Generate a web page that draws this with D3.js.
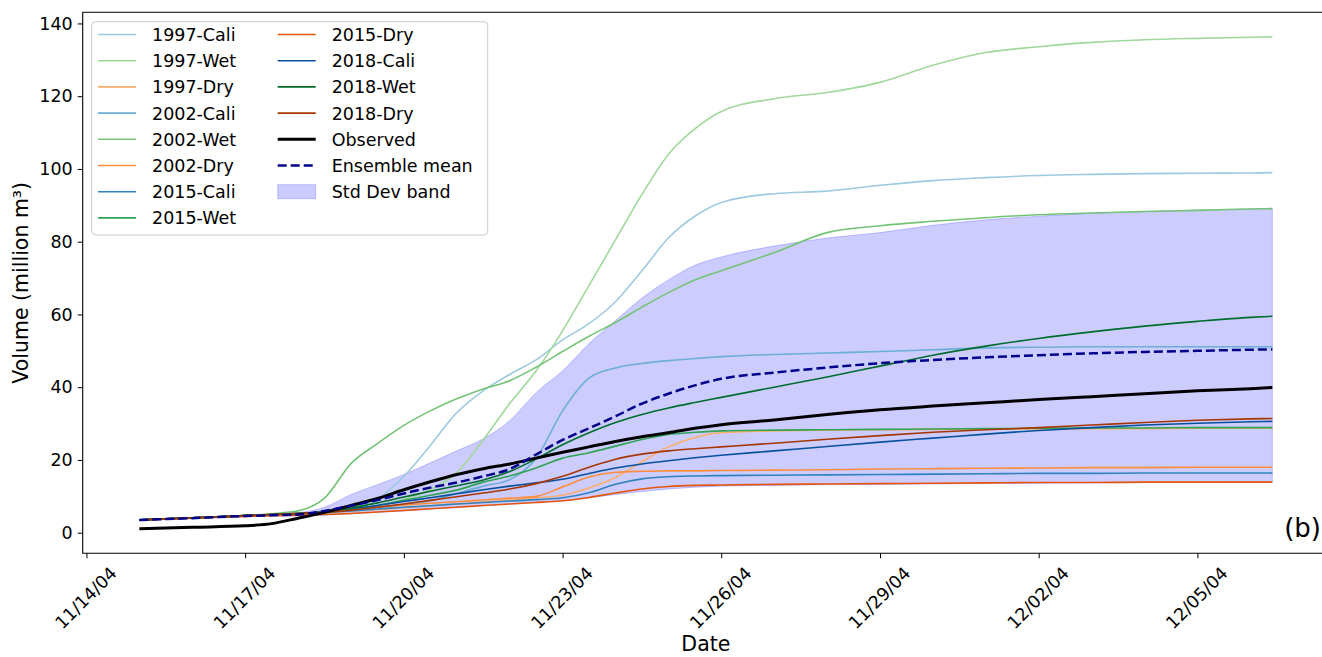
<!DOCTYPE html>
<html>
<head>
<meta charset="utf-8">
<script src="https://cdn.jsdelivr.net/npm/d3@7"></script>
<style>
  body { margin: 0; background: #fff; }
  svg { display: block; font-family: "DejaVu Sans", sans-serif; }
</style>
</head>
<body>
<svg id="chart" width="1322" height="657"></svg>
<script>
// sample times (shared by every series)
const dates = [
    "2004-11-15 00:00", "2004-11-16 00:00", "2004-11-17 00:00", "2004-11-17 12:00",
    "2004-11-18 00:00", "2004-11-18 12:00", "2004-11-19 00:00", "2004-11-19 12:00",
    "2004-11-20 00:00", "2004-11-20 12:00", "2004-11-21 00:00", "2004-11-21 12:00",
    "2004-11-22 00:00", "2004-11-22 12:00", "2004-11-23 00:00", "2004-11-23 12:00",
    "2004-11-24 00:00", "2004-11-24 12:00", "2004-11-25 00:00", "2004-11-25 12:00",
    "2004-11-26 00:00", "2004-11-27 00:00", "2004-11-28 00:00", "2004-11-29 00:00",
    "2004-11-30 00:00", "2004-12-01 00:00", "2004-12-02 00:00", "2004-12-03 00:00",
    "2004-12-04 00:00", "2004-12-05 00:00", "2004-12-06 00:00", "2004-12-06 10:00"
];

// ensemble members (million m3)
const cali1997 = [3.5, 4.1, 4.7, 5.0, 5.3, 5.7, 7.0, 9.3, 15.5, 24, 33, 39, 43.5, 47.5, 53, 57.5, 63.5, 72, 81, 87, 90.8, 93.2, 93.9, 95.5, 96.8, 97.6, 98.2, 98.5, 98.7, 98.8, 98.9, 99.0];
const wet1997 = [3.5, 4.1, 4.7, 5.0, 5.3, 5.6, 6.2, 7.4, 9.2, 11.8, 16.5, 25.5, 35.5, 44.5, 55.5, 68, 80.5, 93, 104, 111, 115.8, 119.3, 121, 123.8, 128.5, 132, 133.6, 134.8, 135.5, 135.9, 136.2, 136.3];
const dry1997 = [3.5, 4.1, 4.7, 5.0, 5.3, 5.5, 5.9, 6.4, 6.9, 7.4, 7.9, 8.4, 9.0, 9.6, 10.3, 12.3, 15.2, 19.5, 23.6, 26.2, 27.5, 28.0, 28.2, 28.3, 28.4, 28.5, 28.5, 28.6, 28.6, 28.7, 28.7, 28.7];
const cali2002 = [3.5, 4.1, 4.7, 5.0, 5.3, 5.7, 6.3, 7.0, 7.8, 8.8, 10.8, 12.8, 14.6, 20.5, 33.5, 42.5, 45.3, 46.5, 47.3, 47.9, 48.4, 49.0, 49.4, 49.8, 50.3, 50.8, 51.0, 51.1, 51.1, 51.1, 51.1, 51.1];
const wet2002 = [3.5, 4.1, 4.7, 5.2, 6.0, 9.5, 19.0, 24.5, 29.5, 33.5, 36.8, 39.5, 41.8, 45.5, 49.8, 54, 57.8, 62, 66, 69.5, 72, 77, 82.5, 84.4, 85.6, 86.6, 87.4, 87.9, 88.3, 88.6, 89.0, 89.1];
const dry2002 = [3.5, 4.1, 4.7, 5.0, 5.3, 5.7, 6.3, 7.0, 7.6, 8.1, 8.5, 9.0, 9.5, 10.0, 12.6, 15.3, 16.6, 16.9, 17.0, 17.0, 17.1, 17.2, 17.3, 17.5, 17.6, 17.7, 17.8, 17.9, 17.9, 18.0, 18.0, 18.0];
const cali2015 = [3.5, 4.1, 4.7, 5.0, 5.3, 5.6, 6.0, 6.5, 7.0, 7.4, 7.9, 8.3, 8.7, 9.1, 9.6, 11.0, 13.3, 14.8, 15.4, 15.6, 15.7, 15.8, 15.9, 16.0, 16.1, 16.2, 16.3, 16.3, 16.4, 16.4, 16.4, 16.4];
const wet2015 = [3.5, 4.1, 4.7, 5.0, 5.3, 5.6, 6.3, 7.5, 8.9, 10.3, 11.7, 13.9, 15.6, 17.8, 20.5, 22.0, 23.8, 25.6, 27.0, 27.6, 28.0, 28.2, 28.3, 28.4, 28.5, 28.6, 28.7, 28.8, 28.8, 28.9, 28.9, 28.9];
const dry2015 = [3.5, 4.0, 4.5, 4.7, 4.8, 5.0, 5.3, 5.7, 6.1, 6.6, 7.0, 7.5, 7.9, 8.3, 8.8, 9.7, 10.9, 12.0, 12.7, 13.0, 13.1, 13.3, 13.4, 13.5, 13.6, 13.7, 13.8, 13.8, 13.9, 13.9, 13.9, 13.9];
const cali2018 = [3.5, 4.1, 4.7, 5.0, 5.3, 5.8, 6.6, 7.5, 8.6, 9.6, 10.7, 11.8, 12.8, 13.7, 14.7, 16.3, 17.8, 18.9, 19.8, 20.6, 21.3, 22.5, 23.7, 24.9, 26.0, 27.1, 28.1, 28.9, 29.6, 30.1, 30.5, 30.6];
const wet2018 = [3.5, 4.1, 4.7, 5.0, 5.3, 5.7, 6.8, 8.2, 9.8, 11.4, 12.9, 14.5, 16.8, 20.3, 24.2, 27.5, 30.3, 32.5, 34.3, 35.8, 37.2, 40.0, 42.8, 45.8, 48.8, 51.3, 53.4, 55.2, 56.8, 58.1, 59.2, 59.5];
const dry2018 = [3.5, 4.1, 4.7, 5.0, 5.3, 5.6, 6.2, 7.0, 7.9, 8.9, 9.9, 10.9, 12.0, 13.5, 15.5, 18.0, 20.2, 21.6, 22.5, 23.1, 23.6, 24.6, 25.7, 26.7, 27.6, 28.3, 28.9, 29.6, 30.3, 30.9, 31.3, 31.4];

const observed = [1.1, 1.5, 1.9, 2.5, 4.0, 5.6, 7.5, 9.4, 11.8, 14.0, 16.0, 17.6, 18.9, 20.5, 22.1, 23.6, 25.1, 26.4, 27.5, 28.7, 29.7, 31.0, 32.5, 33.8, 34.8, 35.7, 36.6, 37.4, 38.2, 39.0, 39.6, 39.9];
const ensembleMean = [3.5, 4.0, 4.6, 4.8, 5.0, 6.0, 7.4, 9.0, 10.8, 12.4, 13.8, 15.5, 17.5, 21.5, 25.5, 28.7, 32.0, 35.5, 38.2, 40.5, 42.3, 44.0, 45.4, 46.6, 47.5, 48.2, 48.8, 49.3, 49.7, 50.0, 50.3, 50.4];
const bandUpper = [3.6, 4.2, 4.8, 5.1, 5.5, 7.0, 10.5, 13.2, 16.0, 19.2, 22.5, 25.8, 30.8, 38.5, 44.5, 52, 58.3, 64.5, 69.5, 73.5, 75.8, 78.8, 81, 82.5, 84.5, 86, 87, 87.8, 88.3, 88.7, 89.0, 89.1];
const bandLower = [3.4, 3.9, 4.4, 4.6, 4.6, 4.8, 5.2, 5.6, 6.0, 6.5, 7.0, 7.4, 7.9, 8.4, 8.8, 9.6, 10.5, 11.3, 12.0, 12.5, 12.8, 13.0, 13.2, 13.3, 13.4, 13.5, 13.6, 13.7, 13.8, 13.8, 13.9, 13.9];

const memberNames = ["1997-Cali", "1997-Wet", "1997-Dry", "2002-Cali", "2002-Wet", "2002-Dry",
    "2015-Cali", "2015-Wet", "2015-Dry", "2018-Cali", "2018-Wet", "2018-Dry"];
const memberColors = ["#9ecae1", "#a1d99b", "#fdae6b", "#6baed6", "#74c476", "#fd8d3c",
    "#3182bd", "#31a354", "#e6550d", "#08519c", "#006d2c", "#a63603"];
const memberValues = [cali1997, wet1997, dry1997, cali2002, wet2002, dry2002,
    cali2015, wet2015, dry2015, cali2018, wet2018, dry2018];

const xTickLabels = ["11/14/04", "11/17/04", "11/20/04", "11/23/04", "11/26/04", "11/29/04", "12/02/04", "12/05/04"];
const yTicks = [0, 20, 40, 60, 80, 100, 120, 140];

// setup
const parseTime = d3.timeParse("%Y-%m-%d %H:%M");
const parseTick = d3.timeParse("%m/%d/%y");
const times = dates.map(parseTime);
const svg = d3.select("#chart");
const plotLeft = 82.7, plotRight = 1329, plotTop = 12.3, plotBottom = 553.3;

// matplotlib-like 5% margins
const [t0, t1] = d3.extent(times);
const tPad = (t1 - t0) * 0.05;
const x = d3.scaleTime()
    .domain([new Date(+t0 - tPad), new Date(+t1 + tPad)])
    .range([plotLeft, plotRight]);

const allValues = memberValues.flat().concat(observed, ensembleMean, bandUpper, bandLower);
const [vMin, vMax] = d3.extent(allValues);
const vPad = (vMax - vMin) * 0.05;
const y = d3.scaleLinear().domain([vMin - vPad, vMax + vPad]).range([plotBottom, plotTop]);

// std dev band
const area = d3.area()
    .x((d, i) => x(times[i]))
    .y0((d, i) => y(bandLower[i]))
    .y1((d) => y(d))
    .curve(d3.curveMonotoneX);
svg.append("path")
    .datum(bandUpper)
    .attr("d", area)
    .attr("fill", "blue")
    .attr("fill-opacity", 0.2)
    .attr("stroke", "blue")
    .attr("stroke-opacity", 0.2)
    .attr("stroke-width", 1);

const line = d3.line()
    .x((d, i) => x(times[i]))
    .y((d) => y(d))
    .curve(d3.curveMonotoneX);

// members
memberValues.forEach((vals, k) => {
    svg.append("path")
        .datum(vals)
        .attr("d", line)
        .attr("fill", "none")
        .attr("stroke", memberColors[k])
        .attr("stroke-width", 1.6);
});

svg.append("path")
    .datum(observed)
    .attr("d", line)
    .attr("fill", "none")
    .attr("stroke", "black")
    .attr("stroke-width", 3);

svg.append("path")
    .datum(ensembleMean)
    .attr("d", line)
    .attr("fill", "none")
    .attr("stroke", "#00008b")
    .attr("stroke-width", 2.5)
    .attr("stroke-dasharray", "9,4");

// axes
const yAxis = d3.axisLeft(y).tickValues(yTicks).tickSize(5).tickPadding(5);
const gy = svg.append("g").attr("transform", `translate(${plotLeft},0)`).call(yAxis);
gy.select(".domain").remove();
gy.selectAll("text").attr("font-size", 17.5).attr("fill", "#000").attr("font-family", "DejaVu Sans");
gy.selectAll("line").attr("stroke", "#000");

const xAxis = d3.axisBottom(x)
    .tickValues(xTickLabels.map(parseTick))
    .tickFormat(d3.timeFormat("%m/%d/%y"))
    .tickSize(5);
const gx = svg.append("g").attr("transform", `translate(0,${plotBottom})`).call(xAxis);
gx.select(".domain").remove();
gx.selectAll("line").attr("stroke", "#000");
gx.selectAll("text")
    .attr("y", 0)
    .attr("dy", null)
    .attr("font-size", 17.5)
    .attr("fill", "#000")
    .attr("font-family", "DejaVu Sans")
    .attr("text-anchor", "middle")
    .attr("dominant-baseline", "central")
    .attr("transform", "translate(-1,44.7) rotate(-45)");

// spines
svg.append("path")
    .attr("d", `M${plotRight},${plotTop}H${plotLeft}V${plotBottom}H${plotRight}`)
    .attr("fill", "none")
    .attr("stroke", "#000")
    .attr("stroke-width", 1.1);

// labels
svg.append("text")
    .attr("transform", `translate(28,${(plotTop + plotBottom) / 2}) rotate(-90)`)
    .attr("text-anchor", "middle")
    .attr("font-size", 20.5)
    .text("Volume (million m³)");
svg.append("text")
    .attr("x", (plotLeft + plotRight) / 2)
    .attr("y", 651)
    .attr("text-anchor", "middle")
    .attr("font-size", 20.5)
    .text("Date");
svg.append("text")
    .attr("x", 1321)
    .attr("y", 537)
    .attr("text-anchor", "end")
    .attr("font-size", 26)
    .text("(b)");

// legend
const legend = svg.append("g");
legend.append("rect")
    .attr("x", 91.7).attr("y", 21.7)
    .attr("width", 396).attr("height", 213.3)
    .attr("rx", 4)
    .attr("fill", "white").attr("fill-opacity", 0.8)
    .attr("stroke", "#cccccc");

const legendItems = memberNames.map((n, k) => ({ name: n, color: memberColors[k], kind: "member" }))
    .concat([
        { name: "Observed", color: "black", kind: "observed" },
        { name: "Ensemble mean", color: "#00008b", kind: "mean" },
        { name: "Std Dev band", color: "blue", kind: "band" }
    ]);

legendItems.forEach((item, k) => {
    const col = k < 8 ? 0 : 1;
    const row = k < 8 ? k : k - 8;
    const hx = col === 0 ? 98 : 277.7;
    const ry = 34.5 + row * 26.2;
    if (item.kind === "band") {
        legend.append("rect")
            .attr("x", hx).attr("y", ry - 7)
            .attr("width", 38).attr("height", 14)
            .attr("fill", "blue").attr("fill-opacity", 0.2)
            .attr("stroke", "blue").attr("stroke-opacity", 0.2);
    } else {
        legend.append("line")
            .attr("x1", hx).attr("x2", hx + 38)
            .attr("y1", ry).attr("y2", ry)
            .attr("stroke", item.color)
            .attr("stroke-width", item.kind === "observed" ? 3 : item.kind === "mean" ? 2.5 : 1.6)
            .attr("stroke-dasharray", item.kind === "mean" ? "9,4" : null);
    }
    legend.append("text")
        .attr("x", hx + 54)
        .attr("y", ry + 6.5)
        .attr("font-size", 17.5)
        .text(item.name);
});
</script>
</body>
</html>
